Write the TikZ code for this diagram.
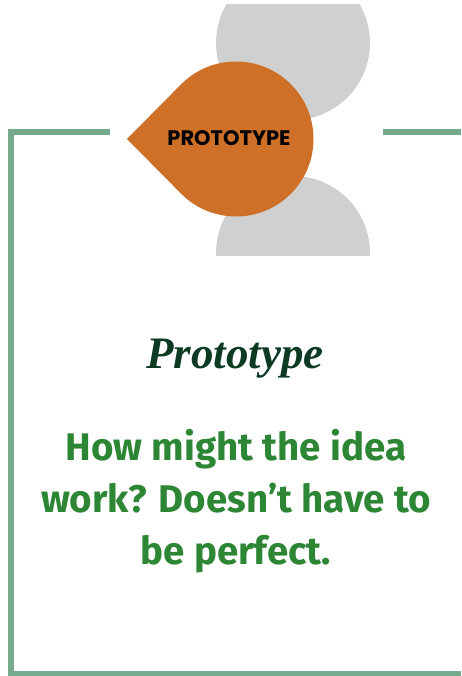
\documentclass[tikz,border=0pt]{standalone}
\usepackage{fontspec}
\newfontfamily\tagfont{Poppins Bold}
\newfontfamily\blurbfont{Fira Sans}
\newfontfamily\titlefont{Liberation Serif}
\definecolor{framegreen}{RGB}{118,170,140}
\definecolor{dropcolor}{RGB}{206,112,40}
\definecolor{discgray}{RGB}{208,208,208}
\definecolor{titlegreen}{RGB}{12,58,34}
\definecolor{blurbgreen}{RGB}{44,134,52}
\tikzset{
  frameline/.style={line width=6pt,framegreen},
  disc/.style={fill=discgray},
}
\begin{document}
\begin{tikzpicture}[x=1pt,y=-1pt]
		\useasboundingbox (0,0) rectangle (461,676);
		% grey discs behind the drop
		\begin{scope}
			\clip (0,5) rectangle (461,255);
			\fill[disc] (293,43) circle[radius=77pt];
			\fill[disc] (293,253) circle[radius=77pt];
		\end{scope}
		% frame
		\draw[frameline] (110,132.5) -- (11,132.5) -- (11,673.5) -- (461,673.5);
		\draw[frameline] (383,132.5) -- (461,132.5);
		% the drop
		\coordinate (tip) at (127,139);
		\coordinate (drop) at (236,139);
		\fill[dropcolor] (tip) -- ([shift={(135:77.5pt)}]drop) arc[start angle=135,end angle=-135,radius=77.5pt] -- cycle;
		\node[font=\tagfont\fontsize{21}{22}\selectfont] (tag) at (229,138) {PROTOTYPE};
		\node[font=\titlefont\bfseries\itshape\fontsize{45}{47}\selectfont,text=titlegreen] (title) at (235,359) {Prototype};
		\node[font=\blurbfont\bfseries\fontsize{38.5}{52}\selectfont,text=blurbgreen,align=center] (blurb) at (236,501)
			{How might the idea\\work? Doesn’t have to\\be perfect.};
	\end{tikzpicture}
\end{document}
